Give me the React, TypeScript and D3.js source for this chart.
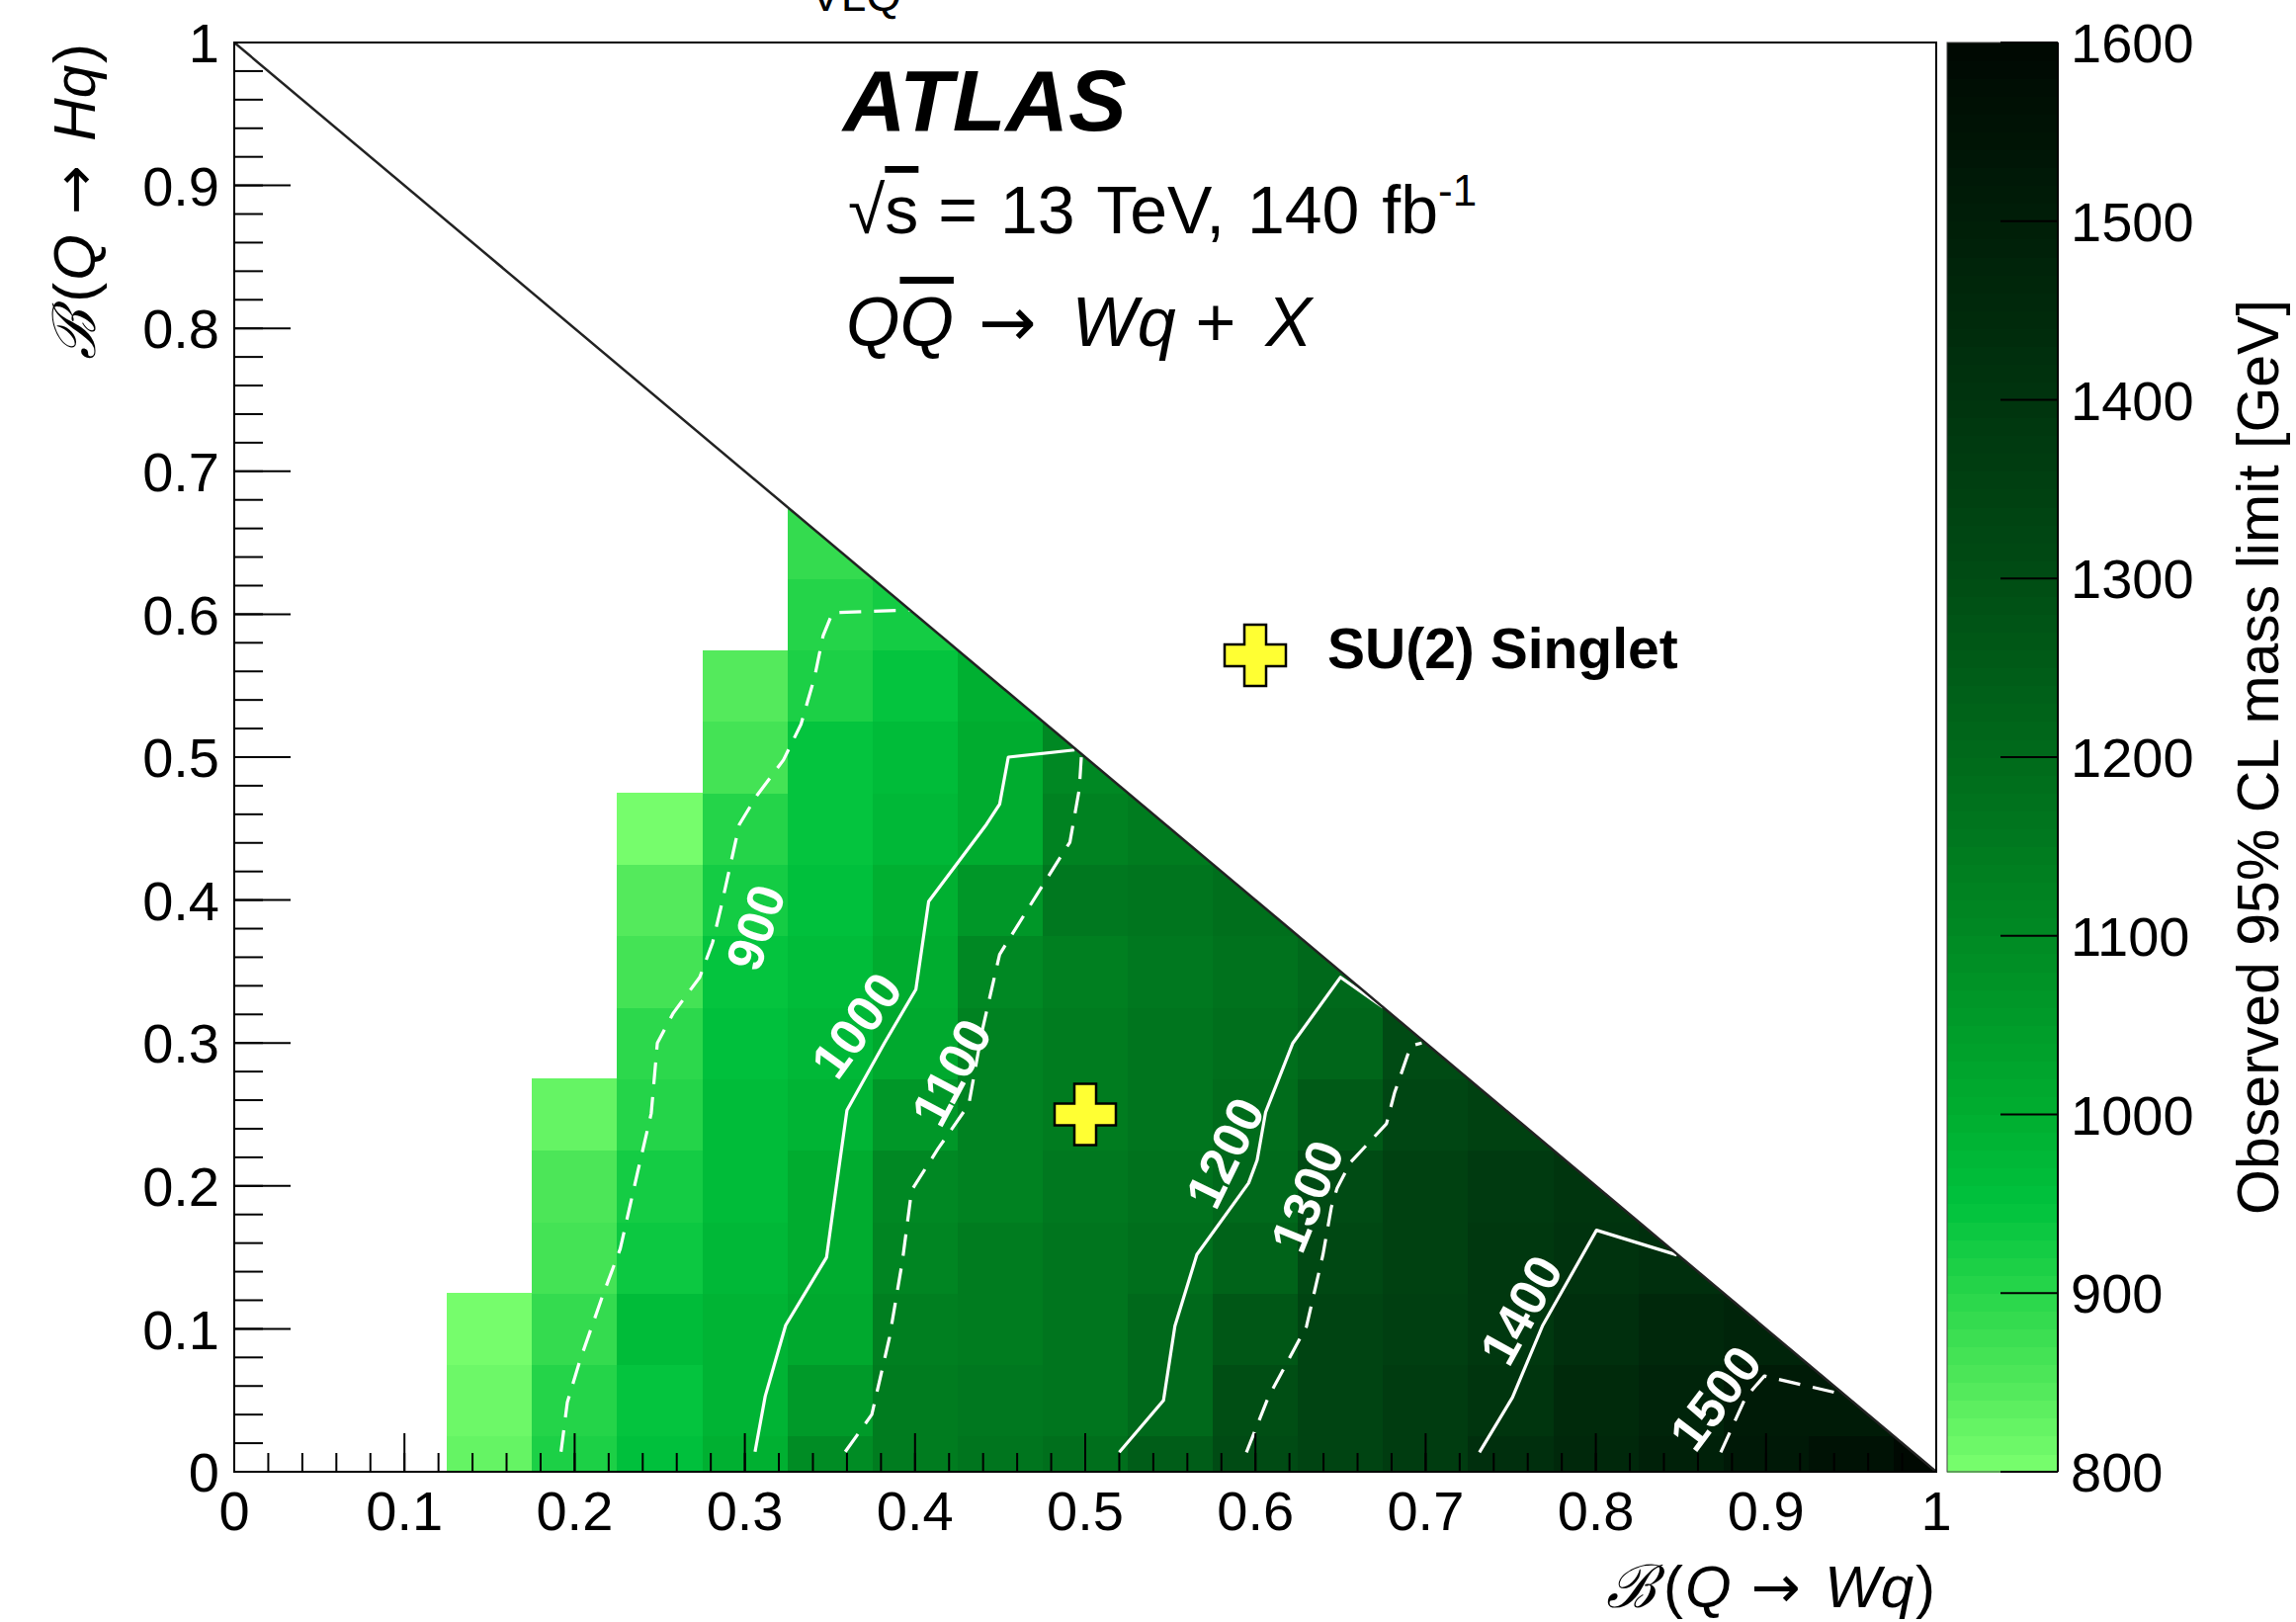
import React from 'react';
import * as d3 from 'd3';

const FONT = '"Liberation Sans", Arial, Helvetica, sans-serif';
const ARROW_FONT = '"DejaVu Sans", sans-serif';

// bin centres along B(Q->Wq)
const brWq = [0.15, 0.2, 0.25, 0.3, 0.35, 0.4, 0.45, 0.5, 0.55, 0.6, 0.65, 0.7, 0.75, 0.8, 0.85, 0.9, 0.95, 1.0];
const binStep = 0.05;
// observed 95% CL mass limit [GeV], one list per B(Q->Wq) column,
// rows B(Q->Hq) = 0, 0.05, 0.10, ...
const massLimit = [
  [820, 812, 802],
  [915, 905, 885, 865, 855, 820],
  [950, 945, 960, 935, 925, 908, 895, 860, 840, 805],
  [990, 985, 985, 975, 965, 960, 955, 943, 921, 908, 860, 840],
  [1090, 1055, 1015, 1000, 1000, 985, 975, 960, 955, 945, 943, 917, 902, 880],
  [1140, 1140, 1130, 1115, 1105, 1060, 1010, 1000, 990, 970, 960, 945, 925],
  [1160, 1150, 1145, 1140, 1120, 1120, 1120, 1105, 1062, 1007, 1003, 990],
  [1185, 1165, 1160, 1160, 1150, 1140, 1140, 1135, 1150, 1125, 1105],
  [1240, 1205, 1200, 1185, 1170, 1165, 1160, 1150, 1165, 1145],
  [1300, 1292, 1265, 1225, 1205, 1195, 1185, 1175, 1185],
  [1330, 1335, 1330, 1310, 1305, 1250, 1215, 1200],
  [1365, 1360, 1350, 1345, 1340, 1325, 1300],
  [1420, 1398, 1385, 1380, 1370, 1345],
  [1450, 1440, 1420, 1405, 1390],
  [1485, 1470, 1450, 1420],
  [1525, 1510, 1470],
  [1555, 1515],
  [1590],
];

// palette of the z axis
const zStops = [800, 850, 900, 950, 1000, 1100, 1200, 1300, 1400, 1500, 1600];
const zColors = ['#7aff6e', '#50e85a', '#28d64a', '#00c23d', '#00ae30', '#008a23', '#006a1b', '#004c14', '#00340e', '#001e08', '#000802'];
const zTicks = [800, 900, 1000, 1100, 1200, 1300, 1400, 1500, 1600];

// iso-limit contours, [B(Q->Wq), B(Q->Hq)]
const c900 = [[0.192, 0.014], [0.1957, 0.0486], [0.203, 0.0775], [0.2164, 0.123], [0.2268, 0.156], [0.237, 0.2096], [0.245, 0.2507], [0.2486, 0.3], [0.258, 0.321], [0.2735, 0.346], [0.281, 0.37], [0.286, 0.395], [0.2968, 0.453], [0.307, 0.473], [0.3227, 0.498], [0.333, 0.523], [0.341, 0.556], [0.346, 0.585], [0.3515, 0.601], [0.398, 0.603]];
const c1000 = [[0.306, 0.014], [0.312, 0.053], [0.324, 0.1025], [0.348, 0.15], [0.3525, 0.189], [0.36, 0.253], [0.382, 0.3], [0.4005, 0.3375], [0.408, 0.399], [0.442, 0.453], [0.4497, 0.467], [0.4548, 0.5], [0.4937, 0.505]];
const c1100 = [[0.359, 0.014], [0.3746, 0.04], [0.385, 0.094], [0.3926, 0.1476], [0.398, 0.197], [0.4135, 0.226], [0.4316, 0.257], [0.4394, 0.3084], [0.4497, 0.362], [0.4756, 0.4115], [0.491, 0.4405], [0.4965, 0.4775], [0.4977, 0.5]];
const c1200 = [[0.52, 0.0136], [0.546, 0.05], [0.5527, 0.102], [0.5656, 0.152], [0.596, 0.202], [0.601, 0.218], [0.606, 0.2517], [0.622, 0.3], [0.65, 0.346], [0.675, 0.325]];
const c1300 = [[0.5947, 0.0136], [0.6075, 0.052], [0.63, 0.1017], [0.6397, 0.152], [0.6446, 0.185], [0.648, 0.1985], [0.656, 0.2167], [0.677, 0.2435], [0.6817, 0.265], [0.6913, 0.298], [0.6977, 0.3]];
const c1400 = [[0.7316, 0.0136], [0.751, 0.052], [0.7686, 0.102], [0.8004, 0.169], [0.8476, 0.1517]];
const c1500 = [[0.8734, 0.0136], [0.888, 0.052], [0.899, 0.067], [0.9475, 0.0535]];

const contours = [
  { level: 900, dashed: true, pts: c900 },
  { level: 1000, dashed: false, pts: c1000 },
  { level: 1100, dashed: true, pts: c1100 },
  { level: 1200, dashed: false, pts: c1200 },
  { level: 1300, dashed: true, pts: c1300 },
  { level: 1400, dashed: false, pts: c1400 },
  { level: 1500, dashed: true, pts: c1500 },
];

// label anchors (data coords) and their angle
const contourLabels = [
  { text: '900', x: 0.306, y: 0.381, angle: -71 },
  { text: '1000', x: 0.3653, y: 0.3126, angle: -54 },
  { text: '1100', x: 0.421, y: 0.2796, angle: -62 },
  { text: '1200', x: 0.5817, y: 0.2234, angle: -64 },
  { text: '1300', x: 0.63, y: 0.193, angle: -68 },
  { text: '1400', x: 0.7557, y: 0.1134, angle: -61 },
  { text: '1500', x: 0.87, y: 0.0519, angle: -53 },
];

// benchmark model
const singlet = { name: 'SU(2) Singlet', wq: 0.5, hq: 0.25 };

const crossPath = (s: number, a: number) =>
  `M${-a},${-s}H${a}V${-a}H${s}V${a}H${a}V${s}H${-a}V${a}H${-s}V${-a}H${-a}Z`;

export default function App() {
  const x = d3.scaleLinear().domain([0, 1]).range([237, 1959]);
  const y = d3.scaleLinear().domain([0, 1]).range([1489, 43]);
  const z = d3.scaleLinear<string>().domain(zStops).range(zColors).clamp(true);
  const zAxis = d3.scaleLinear().domain([800, 1600]).range([1489, 43]);
  const zBands = d3.range(800, 1600, 10);
  const band = (v: number) => z(Math.min(1595, Math.floor(v / 10) * 10 + 5));

  const cells = brWq.flatMap((cx, i) => massLimit[i].map((v, j) => ({ cx, cy: j * binStep, v })));
  const line = d3.line<number[]>().x(d => x(d[0])).y(d => y(d[1]));
  const tri = [[0, 0], [1, 0], [0, 1]].map(p => `${x(p[0])},${y(p[1])}`).join(' ');

  const xMajor = x.ticks(10);
  const xMinor = x.ticks(50);
  const yMajor = y.ticks(10);
  const yMinor = y.ticks(50);
  const fmt = (t: number) => String(+t.toFixed(1));

  const cbL = 1970, cbR = 2082;

  const brTitle = (decay: string) => [
    <tspan key="b" fontFamily="DejaVu Serif" fontStyle="italic">ℬ</tspan>,
    <tspan key="o" dx={8}>(</tspan>,
    <tspan key="q" fontStyle="italic" dx={2}>Q</tspan>,
    <tspan key="a" fontFamily={ARROW_FONT} dx={20}>→</tspan>,
    <tspan key="d" fontStyle="italic" dx={24}>{decay}</tspan>,
    <tspan key="c" dx={2}>)</tspan>,
  ];

  return (
    <svg width={2323} height={1641} style={{ position: 'absolute', left: 0, top: 0, display: 'block', background: '#fff' }}
      fontFamily={FONT}>
      <defs>
        <clipPath id="tri"><polygon points={tri} /></clipPath>
      </defs>

      {/* title, cut by the top edge */}
      <text x={790} y={-2} fontSize={60} fill="#000">κ<tspan fontSize={46} dy={13}>VLQ</tspan><tspan dy={-13}> = 0.5</tspan></text>

      {/* heat map */}
      <g clipPath="url(#tri)" shapeRendering="crispEdges">
        {cells.map((c, k) => (
          <rect key={k} x={x(c.cx - binStep / 2)} y={y(c.cy + binStep / 2)}
            width={x(c.cx + binStep / 2) - x(c.cx - binStep / 2) + 0.6}
            height={y(c.cy - binStep / 2) - y(c.cy + binStep / 2) + 0.6}
            fill={band(c.v)} />
        ))}
      </g>

      {/* contours */}
      <g fill="none" stroke="#fff" strokeWidth={3.2} strokeLinejoin="round">
        {contours.map(c => (
          <path key={c.level} d={line(c.pts) || ''} strokeDasharray={c.dashed ? '22,13' : undefined} />
        ))}
      </g>
      <g fill="#fff" fontSize={52} fontWeight="bold" textAnchor="middle">
        {contourLabels.map(l => (
          <text key={l.text} transform={`translate(${x(l.x)},${y(l.y)}) rotate(${l.angle})`} dy="0.36em">{l.text}</text>
        ))}
      </g>

      {/* kinematic boundary */}
      <line x1={x(0)} y1={y(1)} x2={x(1)} y2={y(0)} stroke="#222" strokeWidth={2.5} />

      {/* frame */}
      <rect x={x(0)} y={y(1)} width={x(1) - x(0)} height={y(0) - y(1)} fill="none" stroke="#000" strokeWidth={2} />

      {/* axis ticks */}
      <g stroke="#000" strokeWidth={2}>
        {xMinor.map(t => <line key={'xm' + t} x1={x(t)} x2={x(t)} y1={y(0)} y2={y(0) - 19} />)}
        {xMajor.map(t => <line key={'xM' + t} x1={x(t)} x2={x(t)} y1={y(0)} y2={y(0) - 39} />)}
        {yMinor.map(t => <line key={'ym' + t} x1={x(0)} x2={x(0) + 29} y1={y(t)} y2={y(t)} />)}
        {yMajor.map(t => <line key={'yM' + t} x1={x(0)} x2={x(0) + 57} y1={y(t)} y2={y(t)} />)}
      </g>
      <g fontSize={56} fill="#000">
        {xMajor.map(t => <text key={'xl' + t} x={x(t)} y={1548} textAnchor="middle">{fmt(t)}</text>)}
        {yMajor.map(t => <text key={'yl' + t} x={222} y={y(t)} dy="0.36em" textAnchor="end">{fmt(t)}</text>)}
      </g>

      {/* axis titles */}
      <text x={1958} y={1626} textAnchor="end" fontSize={60} fill="#000">{brTitle('Wq')}</text>
      <text transform="translate(96,44) rotate(-90)" textAnchor="end" fontSize={60} fill="#000">{brTitle('Hq')}</text>

      {/* colour bar */}
      <g shapeRendering="crispEdges">
        {zBands.map(v => (
          <rect key={v} x={cbL} width={cbR - cbL} y={zAxis(v + 10)} height={zAxis(v) - zAxis(v + 10) + 0.6} fill={z(v + 5)} />
        ))}
      </g>
      <rect x={cbL} y={zAxis(1600)} width={cbR - cbL} height={zAxis(800) - zAxis(1600)} fill="none" stroke="#444" strokeWidth={1} />
      <line x1={cbR} x2={cbR} y1={zAxis(1600)} y2={zAxis(800)} stroke="#000" strokeWidth={2} />
      <g stroke="#000" strokeWidth={2}>
        {zTicks.map(t => <line key={'zt' + t} x1={cbR - 58} x2={cbR} y1={zAxis(t)} y2={zAxis(t)} />)}
      </g>
      <g fontSize={56} fill="#000">
        {zTicks.map(t => <text key={'zl' + t} x={2095} y={zAxis(t)} dy="0.36em">{t}</text>)}
      </g>
      <text transform="translate(2305,766) rotate(-90)" textAnchor="middle" fontSize={59} fill="#000">
        Observed 95% CL mass limit [GeV]
      </text>

      {/* labels */}
      <text x={853} y={132} fontSize={88} fontWeight="bold" fontStyle="italic" fill="#000">ATLAS</text>
      <text x={858} y={236} fontSize={68} fill="#000" wordSpacing={4}>
        <tspan>√</tspan><tspan style={{ textDecoration: 'overline' }}>s</tspan>
        <tspan dx={20}>= 13 TeV, 140 fb</tspan><tspan fontSize={44} dy={-28}>-1</tspan>
      </text>
      <text x={856} y={350} fontSize={70} fill="#000">
        <tspan fontStyle="italic">Q</tspan>
        <tspan fontStyle="italic" style={{ textDecoration: 'overline' }}>Q</tspan>
        <tspan fontFamily={ARROW_FONT} dx={25}>→</tspan>
        <tspan fontStyle="italic" dx={36}>Wq</tspan>
        <tspan dx={20}>+</tspan>
        <tspan fontStyle="italic" dx={30}>X</tspan>
      </text>

      {/* benchmark marker and legend */}
      <path d={crossPath(31, 11)} transform={`translate(${x(singlet.wq)},${y(singlet.hq)})`} fill="#ffff33" stroke="#000" strokeWidth={2.5} />
      <path d={crossPath(31, 11)} transform="translate(1270,663)" fill="#ffff33" stroke="#000" strokeWidth={2.5} />
      <text x={1343} y={676} fontSize={57} fontWeight="bold" fill="#000">{singlet.name}</text>
    </svg>
  );
}
